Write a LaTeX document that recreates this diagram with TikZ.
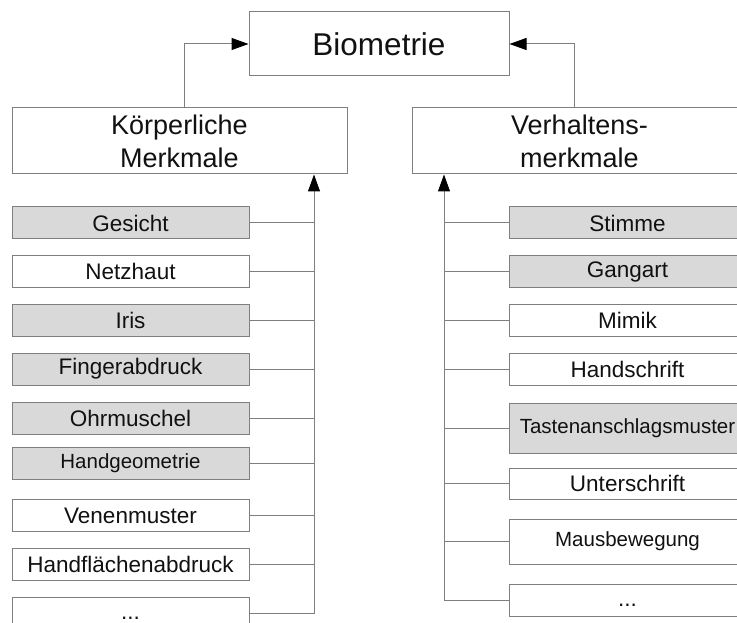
\documentclass[tikz,border=0pt]{standalone}
\usepackage{fontspec}
\setmainfont{Liberation Sans}
\usetikzlibrary{arrows.meta}

\definecolor{edge}{HTML}{7F7F7F}
\definecolor{shade}{HTML}{D9D9D9}
\definecolor{ink}{HTML}{111111}

\tikzset{
  box/.style={draw=edge, line width=1pt, rectangle, inner sep=0pt, text=ink, align=center},
  head/.style={box, fill=white, minimum width=335pt, minimum height=66pt,
               font=\fontsize{27}{33}\selectfont},
  item/.style={box, fill=white, minimum width=237pt, minimum height=32pt,
               font=\fontsize{22.5}{26}\selectfont},
  small/.style={font=\fontsize{20.5}{24}\selectfont},
  dots/.style={text height=12pt, text depth=0pt},
  shaded/.style={fill=shade},
  link/.style={draw=edge, line width=1pt},
  arr/.style={link, -{Triangle[length=17pt, width=12pt, black]}},
}

\begin{document}
\begin{tikzpicture}[x=1pt, y=-1pt]
  \useasboundingbox (0,0) rectangle (737,623);
  \fill[white] (0,0) rectangle (737,623);
  \clip (0,0) rectangle (737,623);

  % root and the two categories
  \node[box, fill=white, minimum width=260pt, minimum height=64pt,
        font=\fontsize{31.5}{36}\selectfont] (bio) at (379,44) {Biometrie};
  \node[head] (koerp) at (179.5,141) {Körperliche\\Merkmale};
  \node[head] (verh)  at (579.5,141) {Verhaltens-\\merkmale};

  % physical traits
  \node[item, shaded] (ges)  at (130.5,223)   {Gesicht};
  \node[item]         (netz) at (130.5,271.5) {Netzhaut};
  \node[item, shaded] (iris) at (130.5,320.5) {Iris};
  \node[item, shaded] (fing) at (130.5,369)   {Fingerabdruck};
  \node[item, shaded] (ohr)  at (130.5,418)   {Ohrmuschel};
  \node[item, shaded, small] (hgeo) at (130.5,463.5) {Handgeometrie};
  \node[item]         (ven)  at (130.5,515.5) {Venenmuster};
  \node[item]         (hfl)  at (130.5,564.5) {Handflächenabdruck};
  \node[item, dots]   (lmore) at (130.5,613.5) {...};

  % behavioural traits
  \node[item, shaded] (stim) at (627.5,223)   {Stimme};
  \node[item, shaded] (gang) at (627.5,271.5) {Gangart};
  \node[item]         (mim)  at (627.5,320.5) {Mimik};
  \node[item]         (hsch) at (627.5,369)   {Handschrift};
  \node[item, shaded, small, minimum height=50pt] (tast) at (627.5,428) {Tastenanschlagsmuster};
  \node[item, minimum height=31pt] (unt) at (627.5,483.5) {Unterschrift};
  \node[item, small, minimum height=45pt] (maus) at (627.5,541.5) {Mausbewegung};
  \node[item, dots]   (rmore) at (627.5,600) {...};

  % trunks
  \coordinate (tl) at (314,613.5);
  \coordinate (tr) at (444,600);
  \draw[arr] (tl) -- (tl |- koerp.south);
  \draw[arr] (tr) -- (tr |- verh.south);

  \foreach \n in {ges,netz,iris,fing,ohr,hgeo,ven,hfl,lmore}
    \draw[link] (\n.east) -- (\n.east -| tl);
  \foreach \n in {stim,gang,mim,hsch,tast,unt,maus,rmore}
    \draw[link] (\n.west) -- (\n.west -| tr);

  % categories up to the root
  \coordinate (kx) at (184,0);
  \coordinate (vx) at (574,0);
  \draw[arr] (koerp.north -| kx) |- (bio.west);
  \draw[arr] (verh.north -| vx) |- (bio.east);
\end{tikzpicture}
\end{document}
